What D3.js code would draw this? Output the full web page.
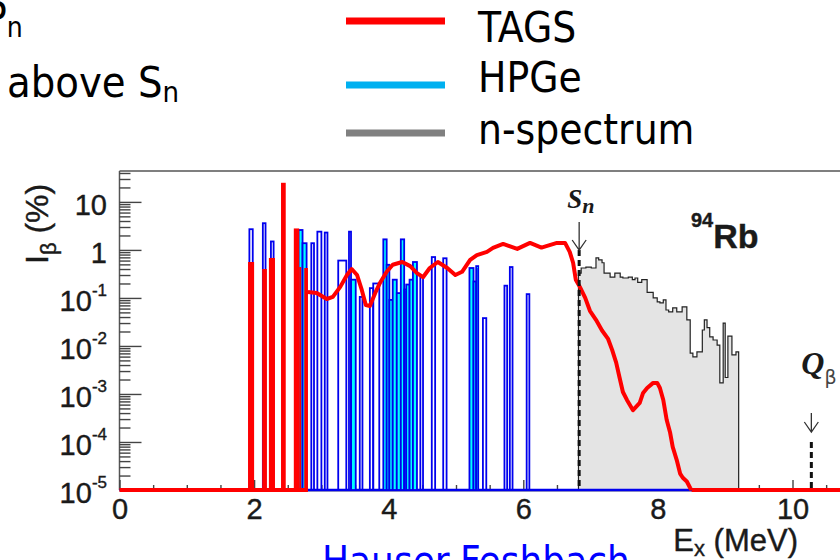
<!DOCTYPE html>
<html>
<head>
<meta charset="UTF-8">
<title>94Rb beta intensity</title>
<script src="https://d3js.org/d3.v7.min.js"></script>
<style>
  body { margin: 0; background: #fff; }
  svg { display: block; }
  .slide { font-family: "DejaVu Sans Condensed", "DejaVu Sans", sans-serif; font-stretch: condensed; fill: #000; }
  .root { font-family: "Liberation Sans", Arial, sans-serif; fill: #1a1a1a; stroke: #1a1a1a; stroke-width: 0.4; }
  .ann { font-family: "Liberation Serif", "Times New Roman", serif; font-style: italic; font-weight: bold; fill: #1a1a1a; }
</style>
</head>
<body>
<script>
// ---- data (E in MeV, I in %) ----
// TAGS: isolated levels at low energy
var tagsBarLo = [1.91, 2.12, 2.22, 2.40, 2.59, 2.67, 2.745];
var tagsBarHi = [2.00, 2.19, 2.31, 2.47, 2.67, 2.70, 2.80];
var tagsBarI  = [0.56, 0.40, 0.68, 25, 2.8, 0.44, 0.42];

// TAGS: quasi-continuum
var tagsE = [2.80, 2.93, 3.08, 3.17, 3.28, 3.38, 3.45, 3.53, 3.60, 3.66,
             3.72, 3.80, 3.87, 3.97, 4.06, 4.20, 4.32, 4.42, 4.51, 4.61,
             4.73, 4.87, 4.99, 5.09, 5.21, 5.31, 5.46, 5.55, 5.70, 5.91,
             6.10, 6.27, 6.50, 6.62, 6.69, 6.74, 6.78, 6.84, 6.92, 6.99,
             7.08, 7.17, 7.26, 7.32, 7.38, 7.43, 7.48, 7.54, 7.63, 7.73,
             7.78, 7.84, 7.93, 7.99, 8.03, 8.08, 8.13, 8.18, 8.22, 8.28,
             8.33, 8.37, 8.43, 8.48, 8.50];
var tagsI = [0.133, 0.127, 0.095, 0.105, 0.17, 0.30, 0.40, 0.30, 0.147, 0.071,
             0.068, 0.127, 0.205, 0.35, 0.49, 0.56, 0.46, 0.33, 0.27, 0.42,
             0.56, 0.42, 0.30, 0.35, 0.62, 0.78, 0.91, 1.1, 1.33, 1.05,
             1.4, 1.12, 1.4, 1.4, 0.91, 0.54, 0.24, 0.17, 0.10, 0.054,
             0.035, 0.021, 0.014, 0.0083, 0.0045, 0.0022, 0.0011, 7.5e-4, 4.6e-4, 6.5e-4,
             1.05e-3, 1.33e-3, 1.7e-3, 1.7e-3, 1.33e-3, 7.5e-4, 2.9e-4, 1.6e-4, 7.9e-5, 4.2e-5,
             2.2e-5, 1.8e-5, 1.5e-5, 1.1e-5, 1e-5];
// ranges where TAGS sits at the floor
var tagsFloorLo = [0, 8.50];
var tagsFloorHi = [2.80, 12];

// HPGe: open (outline) bins
var hpgeLineLo = [1.93, 2.13, 2.25, 2.85, 2.94, 3.05, 3.25, 3.41, 3.57, 3.72, 3.77, 4.47, 4.64, 4.81, 5.40, 5.72, 5.80, 6.05];
var hpgeLineHi = [1.98, 2.17, 2.29, 2.89, 3.00, 3.09, 3.37, 3.44, 3.61, 3.77, 3.86, 4.51, 4.69, 4.86, 5.45, 5.76, 5.84, 6.09];
var hpgeLineI  = [2.7, 3.6, 1.5, 1.38, 2.4, 2.3, 0.60, 2.4, 0.105, 0.16, 0.20, 0.27, 0.71, 0.67, 0.038, 0.18, 0.44, 0.12];

// HPGe: filled bins
var hpgeFillLo = [2.66, 2.72, 3.44, 3.92, 3.97, 4.01, 4.06, 4.12, 4.18, 4.23, 4.26, 4.31, 4.36, 5.20, 5.26, 5.30];
var hpgeFillHi = [2.72, 2.78, 3.51, 3.97, 4.01, 4.06, 4.12, 4.18, 4.23, 4.26, 4.31, 4.36, 4.42, 5.26, 5.30, 5.33];
var hpgeFillI  = [2.6, 1.38, 0.24, 1.66, 0.49, 0.091, 0.24, 0.126, 1.66, 0.15, 0.19, 0.24, 0.56, 0.42, 0.22, 0.46];

// neutron spectrum (bin left edges, last entry is the closing edge)
var nE = [6.82, 6.86, 6.93, 7.01, 7.08, 7.12, 7.17, 7.20, 7.29, 7.36,
          7.44, 7.48, 7.56, 7.62, 7.66, 7.70, 7.76, 7.84, 7.93, 7.99,
          8.03, 8.08, 8.12, 8.16, 8.22, 8.28, 8.36, 8.43, 8.48, 8.52,
          8.58, 8.66, 8.69, 8.73, 8.77, 8.82, 8.88, 8.92, 8.97, 9.00,
          9.04, 9.10, 9.16, 9.20];
var nI = [0.33, 0.42, 0.44, 0.42, 0.68, 0.62, 0.54, 0.33, 0.27, 0.33,
          0.27, 0.26, 0.27, 0.24, 0.26, 0.21, 0.24, 0.13, 0.10, 0.083,
          0.079, 0.091, 0.056, 0.051, 0.062, 0.051, 0.065, 0.035, 0.0071, 0.0059,
          0.0075, 0.0215, 0.035, 0.024, 0.0154, 0.0133, 0.0104, 0.0017, 0.030, 0.0022,
          0.016, 0.0065, 0.0075, 0.0075];

var Sn = 6.83, Qb = 10.28;

// axis ticks
var xMajor = [0, 2, 4, 6, 8, 10];
var yMajor = [1e-5, 1e-4, 1e-3, 1e-2, 1e-1, 1, 10];
var yLabelBase = ["10", "10", "10", "10", "10", "1", "10"];
var yLabelExp  = ["-5", "-4", "-3", "-2", "-1", "", ""];

var legendNames = ["TAGS", "HPGe", "n-spectrum"];
var legendColors = ["#ff0000", "#00b0f0", "#808080"];

// ---- chart ----
var width = 840, height = 560;
var svg = d3.select("body").append("svg")
    .attr("width", width)
    .attr("height", height);

var x = d3.scaleLinear().domain([0, 12]).range([119.5, 119.5 + 12 * 67.3]);
var y = d3.scaleLog().domain([1e-5, 44]).range([490, 171]);
var floorY = y(1e-5);

// minor tick positions
var xMinor = d3.range(0.5, 12, 0.5).filter(d => d % 2 !== 0);
var yMinor = [];
yMajor.forEach(d => { for (var m = 2; m <= 9; m++) if (m * d <= 44) yMinor.push(m * d); });

// frame
svg.append("line").attr("x1", x(0)).attr("x2", width).attr("y1", 171).attr("y2", 171)
    .attr("stroke", "#555").attr("stroke-width", 1.5);
svg.append("line").attr("x1", x(0)).attr("x2", x(0)).attr("y1", 171).attr("y2", floorY)
    .attr("stroke", "#555").attr("stroke-width", 1.5);

var gy = svg.append("g").attr("transform", "translate(" + x(0) + ",0)")
    .call(d3.axisRight(y).tickValues(yMajor).tickSize(22).tickFormat(""));
var gy2 = svg.append("g").attr("transform", "translate(" + x(0) + ",0)")
    .call(d3.axisRight(y).tickValues(yMinor).tickSize(11).tickFormat(""));
[gy, gy2].forEach(g => {
    g.select(".domain").remove();
    g.selectAll("line").attr("stroke", "#444").attr("stroke-width", 1.4);
});

var gx = svg.append("g").attr("transform", "translate(0," + floorY + ")")
    .call(d3.axisBottom(x).tickValues(xMajor).tickSizeInner(-10).tickSizeOuter(0).tickPadding(8).tickFormat(d3.format("d")));
var gx2 = svg.append("g").attr("transform", "translate(0," + floorY + ")")
    .call(d3.axisBottom(x).tickValues(xMinor).tickSizeInner(-5).tickSizeOuter(0).tickFormat(""));
[gx, gx2].forEach(g => {
    g.select(".domain").attr("stroke", "#555").attr("stroke-width", 1.5);
    g.selectAll("line").attr("stroke", "#444").attr("stroke-width", 1.4);
});
gx.selectAll("text").attr("class", "root").attr("fill", "#1a1a1a")
    .style("font-size", "29px").style("font-family", "Liberation Sans, Arial, sans-serif");

// y tick labels with exponents
svg.append("g").selectAll("text")
    .data(yMajor)
    .join("text")
    .attr("class", "root")
    .attr("x", 107)
    .attr("y", d => y(d) + 13)
    .attr("text-anchor", "end")
    .style("font-size", "29px")
    .each(function(d, i) {
        var t = d3.select(this);
        t.append("tspan").text(yLabelBase[i]);
        if (yLabelExp[i]) t.append("tspan").attr("dy", -15).style("font-size", "17px").text(yLabelExp[i]);
    });

// axis titles
var yt = svg.append("text").attr("class", "root")
    .attr("transform", "translate(48,264) rotate(-90)")
    .style("font-size", "32px");
yt.append("tspan").text("I");
yt.append("tspan").attr("dy", 8).style("font-size", "22px").text("\u03b2");
yt.append("tspan").attr("dy", -8).text(" (%)");

var xt = svg.append("text").attr("class", "root")
    .attr("x", 798).attr("y", 551).attr("text-anchor", "end")
    .style("font-size", "31px");
xt.append("tspan").text("E");
xt.append("tspan").attr("dy", 5).style("font-size", "22px").text("x");
xt.append("tspan").attr("dy", -5).text(" (MeV)");

// neutron spectrum
var nPts = nE.map((e, i) => [e, nI[i]]);
svg.append("path")
    .datum(nPts)
    .attr("d", d3.area().curve(d3.curveStepAfter).x(d => x(d[0])).y0(floorY).y1(d => y(d[1])))
    .attr("fill", "#e4e4e4");
svg.append("path")
    .datum([[nE[0], 1e-5]].concat(nPts, [[nE[nE.length - 1], 1e-5]]))
    .attr("d", d3.line().curve(d3.curveStepAfter).x(d => x(d[0])).y(d => y(d[1])))
    .attr("fill", "none").attr("stroke", "#222").attr("stroke-width", 1.2);

// HPGe
svg.append("line").attr("x1", x(0)).attr("x2", width).attr("y1", floorY).attr("y2", floorY)
    .attr("stroke", "#0000ee").attr("stroke-width", 2.5);
svg.append("g").selectAll("rect")
    .data(hpgeFillLo)
    .join("rect")
    .attr("x", (d, i) => x(d))
    .attr("width", (d, i) => x(hpgeFillHi[i]) - x(d))
    .attr("y", (d, i) => y(hpgeFillI[i]))
    .attr("height", (d, i) => floorY - y(hpgeFillI[i]))
    .attr("fill", "#00ffff").attr("stroke", "#0000ee").attr("stroke-width", 1.8);
svg.append("g").selectAll("rect")
    .data(hpgeLineLo)
    .join("rect")
    .attr("x", (d, i) => x(d))
    .attr("width", (d, i) => x(hpgeLineHi[i]) - x(d))
    .attr("y", (d, i) => y(hpgeLineI[i]))
    .attr("height", (d, i) => floorY - y(hpgeLineI[i]))
    .attr("fill", "none").attr("stroke", "#0000ee").attr("stroke-width", 1.8);

// TAGS
svg.append("g").selectAll("line")
    .data(tagsFloorLo)
    .join("line")
    .attr("x1", d => x(d)).attr("x2", (d, i) => x(tagsFloorHi[i]))
    .attr("y1", floorY).attr("y2", floorY)
    .attr("stroke", "#ff0000").attr("stroke-width", 4);
svg.append("g").selectAll("rect")
    .data(tagsBarLo)
    .join("rect")
    .attr("x", d => x(d))
    .attr("width", (d, i) => x(tagsBarHi[i]) - x(d))
    .attr("y", (d, i) => y(tagsBarI[i]))
    .attr("height", (d, i) => floorY - y(tagsBarI[i]))
    .attr("fill", "#ff0000");
svg.append("path")
    .datum(tagsE.map((e, i) => [e, tagsI[i]]))
    .attr("d", d3.line().x(d => x(d[0])).y(d => y(d[1])))
    .attr("fill", "none").attr("stroke", "#ff0000").attr("stroke-width", 4)
    .attr("stroke-linejoin", "round");

// Sn and Q_beta markers
function marker(e, top, tip, lineTop) {
    var cx = x(e);
    svg.append("line").attr("x1", cx).attr("x2", cx).attr("y1", lineTop).attr("y2", floorY)
        .attr("stroke", "#111").attr("stroke-width", 3).attr("stroke-dasharray", "6,4");
    svg.append("path")
        .attr("d", "M" + cx + "," + top + "V" + tip + "M" + (cx - 7) + "," + (tip - 10) + "L" + cx + "," + tip + "L" + (cx + 7) + "," + (tip - 10))
        .attr("fill", "none").attr("stroke", "#333").attr("stroke-width", 1.3);
    return cx;
}
var sx = marker(Sn, 222, 250, 250);
var st = svg.append("text").attr("class", "ann").attr("x", sx - 12).attr("y", 208).style("font-size", "27px");
st.append("tspan").text("S");
st.append("tspan").attr("dy", 5).style("font-size", "22px").text("n");

var qx = marker(Qb, 413, 432, 442);
var qt = svg.append("text").attr("class", "ann").attr("x", qx - 10).attr("y", 374).style("font-size", "32px");
qt.append("tspan").text("Q");
qt.append("tspan").attr("dy", 10).style("font-size", "19px")
    .style("font-style", "normal").style("font-weight", "normal")
    .style("font-family", "DejaVu Sans, sans-serif").style("fill", "#444").text("\u03b2");

var rb = svg.append("text").attr("class", "root").attr("x", 691).attr("y", 248)
    .style("font-weight", "bold");
rb.append("tspan").attr("dy", -21).style("font-size", "20px").text("94");
rb.append("tspan").attr("dy", 21).style("font-size", "34px").text("Rb");

// slide texts
var pn = svg.append("text").attr("class", "slide").attr("x", -16).attr("y", 32).style("font-size", "42px");
pn.append("tspan").text("P");
pn.append("tspan").attr("dy", 5).style("font-size", "28px").text("n");

var ab = svg.append("text").attr("class", "slide").attr("x", 7).attr("y", 97).style("font-size", "43px");
ab.append("tspan").text("above S");
ab.append("tspan").attr("dy", 5).style("font-size", "29px").text("n");

svg.append("text").attr("class", "slide").attr("x", 322).attr("y", 575)
    .style("font-size", "40px").style("fill", "#0000ff").text("Hauser-Feshbach");

// legend
var legendY = [21, 85, 133];
var legendTextY = [42, 92, 144];
var lg = svg.append("g");
lg.selectAll("line").data(legendNames).join("line")
    .attr("x1", 346).attr("x2", 445)
    .attr("y1", (d, i) => legendY[i]).attr("y2", (d, i) => legendY[i])
    .attr("stroke", (d, i) => legendColors[i]).attr("stroke-width", 7);
lg.selectAll("text").data(legendNames).join("text")
    .attr("class", "slide")
    .attr("x", 478).attr("y", (d, i) => legendTextY[i])
    .style("font-size", "42px")
    .text(d => d);
</script>
</body>
</html>
